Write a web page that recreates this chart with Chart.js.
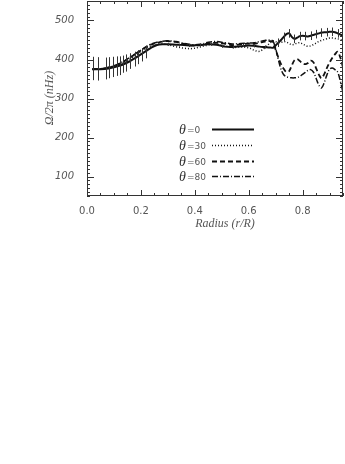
<!DOCTYPE html>
<html>
<head>
<meta charset="utf-8">
<script src="https://cdn.jsdelivr.net/npm/chart.js@4.4.1/dist/chart.umd.min.js"></script>
<style>
  html, body { margin: 0; padding: 0; background: #fff; }
  #wrap { width: 345px; height: 240px; }
</style>
</head>
<body>
<div id="wrap"><canvas id="c" width="345" height="240"></canvas></div>
<script>
// radius grid (r/R) shared by the four latitude curves
const radius = [0.02,0.05,0.08,0.10,0.12,0.14,0.16,0.18,0.20,0.22,0.24,0.26,0.28,0.30,0.33,0.36,0.39,0.42,0.45,0.48,
  0.51,0.54,0.57,0.60,0.62,0.64,0.66,0.68,0.69,0.70,0.71,0.72,0.73,0.74,0.75,0.76,0.77,0.78,0.79,0.80,
  0.81,0.82,0.83,0.84,0.85,0.86,0.87,0.88,0.89,0.90,0.91,0.92,0.93,0.94,0.95];

// Omega/2pi in nHz
const theta0 = [375,375,377,380,384,389,396,404,413,422,431,437,439,439,438,437,436,437,439,438,
  433,432,434,436,435,433,432,431,430,436,443,450,458,465,467,458,453,456,460,461,
  460,459,461,463,465,467,469,470,470,471,471,470,467,464,461];
const theta30 = [375,375,378,382,387,393,401,410,419,428,435,439,440,438,433,429,428,432,437,439,
  436,431,432,430,424,421,430,443,448,446,443,444,446,445,441,438,439,442,443,440,
  436,434,435,438,442,446,449,451,453,455,455,454,453,451,449];
const theta60 = [375,376,379,383,389,396,405,414,423,432,439,443,446,447,445,440,436,437,441,443,
  441,437,439,441,440,443,446,447,445,425,405,388,376,368,370,385,398,401,396,390,
  388,391,397,393,378,362,352,362,378,392,404,413,420,405,380];
const theta80 = [375,376,380,384,390,397,406,415,424,433,440,444,447,448,446,441,438,439,444,446,
  443,440,441,442,443,446,449,450,447,428,400,375,361,356,354,353,353,354,357,362,
  367,372,374,368,352,335,327,340,360,375,378,374,368,345,315];

// error bars: position, centre and half length
const errR   = [0.023,0.042,0.07,0.083,0.098,0.11,0.122,0.135,0.145,0.16,0.178,0.19,0.205,0.22,
  0.30,0.34,0.38,0.42,0.46,0.50,0.54,0.58,0.62,0.66,
  0.71,0.73,0.75,0.77,0.79,0.81,0.83,0.85,0.87,0.89,0.91,0.93];
const errMid = [377,376,377,379,381,383,384,388,391,396,401,406,412,419,
  439,437,436,437,439,434,432,436,435,432,
  443,458,467,453,460,460,461,465,469,470,471,467];
const errHalf = [30,30,28,27,26,25,24,22,22,20,19,18,17,16,
  4,4,4,4,4,4,4,4,4,4,
  11,11,11,11,11,11,11,11,11,11,11,11];

// axes
const xMin = 0, xMax = 0.95;
const yMin = 50, yMax = 550;
const xTicks = [0, 0.2, 0.4, 0.6, 0.8];
const yTicks = [100, 200, 300, 400, 500];

const legendLabels = ['0', '30', '60', '80'];
const dashes = [[], [1, 2], [5, 3], [6, 2, 1, 2]];
const widths = [2, 1.5, 1.8, 1.5];

const INK = '#111';
const TXT = '#555';

function pts(vals) {
  return radius.map((r, i) => ({ x: r, y: vals[i] }));
}

// frame, inward ticks on all four sides, error bars, legend and axis titles
const decor = {
  id: 'decor',
  afterDatasetsDraw(chart) {
    const ctx = chart.ctx;
    const a = chart.chartArea;
    const xs = chart.scales.x, ys = chart.scales.y;
    ctx.save();

    // error bars
    ctx.strokeStyle = '#333';
    ctx.lineWidth = 1;
    for (let i = 0; i < errR.length; i++) {
      const px = Math.round(xs.getPixelForValue(errR[i])) + 0.5;
      ctx.beginPath();
      ctx.moveTo(px, ys.getPixelForValue(errMid[i] - errHalf[i]));
      ctx.lineTo(px, ys.getPixelForValue(errMid[i] + errHalf[i]));
      ctx.stroke();
    }

    // frame
    ctx.strokeStyle = '#333';
    ctx.strokeRect(Math.round(a.left) + 0.5, Math.round(a.top) + 0.5,
      Math.round(a.right - a.left) - 1, Math.round(a.bottom - a.top) - 1);

    // x ticks (bottom and top)
    ctx.beginPath();
    for (let v = xMin; v <= xMax + 1e-9; v += 0.05) {
      const px = Math.round(xs.getPixelForValue(v)) + 0.5;
      const major = Math.abs(v / 0.2 - Math.round(v / 0.2)) < 1e-6;
      const len = major ? 6 : 3;
      ctx.moveTo(px, a.bottom); ctx.lineTo(px, a.bottom - len);
      ctx.moveTo(px, a.top); ctx.lineTo(px, a.top + len);
    }
    // y ticks (left and right)
    for (let v = yMin; v <= yMax; v += 10) {
      const py = Math.round(ys.getPixelForValue(v)) + 0.5;
      const len = v % 100 === 0 ? 7 : 3;
      ctx.moveTo(a.left, py); ctx.lineTo(a.left + len, py);
      ctx.moveTo(a.right, py); ctx.lineTo(a.right - len, py);
    }
    ctx.stroke();

    // legend
    const lx = 179, lineX0 = 212, lineX1 = 254;
    const rows = [129, 145, 161, 176];
    for (let i = 0; i < 4; i++) {
      const y = rows[i];
      ctx.fillStyle = '#333';
      ctx.textBaseline = 'alphabetic';
      ctx.textAlign = 'left';
      ctx.font = 'italic 14px "Liberation Serif"';
      ctx.fillText('\u03b8', lx, y + 5);
      const tw = ctx.measureText('\u03b8').width;
      ctx.fillStyle = TXT;
      ctx.font = '9px "DejaVu Sans"';
      ctx.fillText('=' + legendLabels[i], lx + tw + 1, y + 4);
      ctx.strokeStyle = INK;
      ctx.lineWidth = widths[i];
      ctx.setLineDash(dashes[i]);
      ctx.beginPath();
      ctx.moveTo(lineX0, y + 0.5); ctx.lineTo(lineX1, y + 0.5);
      ctx.stroke();
      ctx.setLineDash([]);
    }

    // axis titles
    ctx.fillStyle = TXT;
    ctx.font = 'italic 12px "Liberation Serif"';
    ctx.textAlign = 'center';
    ctx.textBaseline = 'middle';
    ctx.fillText('Radius (r/R)', 225, 224);
    ctx.translate(50, 98);
    ctx.rotate(-Math.PI / 2);
    ctx.fillText('\u03a9/2\u03c0 (nHz)', 0, 0);
    ctx.restore();
  }
};

new Chart(document.getElementById('c'), {
  type: 'line',
  data: {
    datasets: [
      { data: pts(theta0), borderWidth: widths[0], borderDash: dashes[0] },
      { data: pts(theta30), borderWidth: widths[1], borderDash: dashes[1] },
      { data: pts(theta60), borderWidth: widths[2], borderDash: dashes[2] },
      { data: pts(theta80), borderWidth: widths[3], borderDash: dashes[3] }
    ].map(d => ({ ...d, borderColor: INK, pointRadius: 0, tension: 0.35, fill: false }))
  },
  options: {
    responsive: false,
    animation: false,
    layout: { padding: { left: 0, right: 2, top: 1, bottom: 0 } },
    plugins: { legend: { display: false }, tooltip: { enabled: false } },
    scales: {
      x: {
        type: 'linear', min: xMin, max: xMax,
        grid: { display: false, drawTicks: false },
        border: { display: false },
        afterBuildTicks: s => { s.ticks = xTicks.map(v => ({ value: v })); },
        afterFit: s => { s.height = 44; s.paddingLeft = 0; s.paddingRight = 0; },
        ticks: {
          padding: 9, color: TXT, maxRotation: 0, autoSkip: false,
          font: { family: 'DejaVu Sans', size: 10 },
          callback: v => Number(v).toFixed(1)
        }
      },
      y: {
        min: yMin, max: yMax,
        grid: { display: false, drawTicks: false },
        border: { display: false },
        afterBuildTicks: s => { s.ticks = yTicks.map(v => ({ value: v })); },
        afterFit: s => { s.width = 87; s.paddingTop = 0; s.paddingBottom = 0; },
        ticks: {
          padding: 13, color: TXT,
          font: { family: 'DejaVu Sans', size: 10, style: 'italic' }
        }
      }
    }
  },
  plugins: [decor]
});
</script>
</body>
</html>
